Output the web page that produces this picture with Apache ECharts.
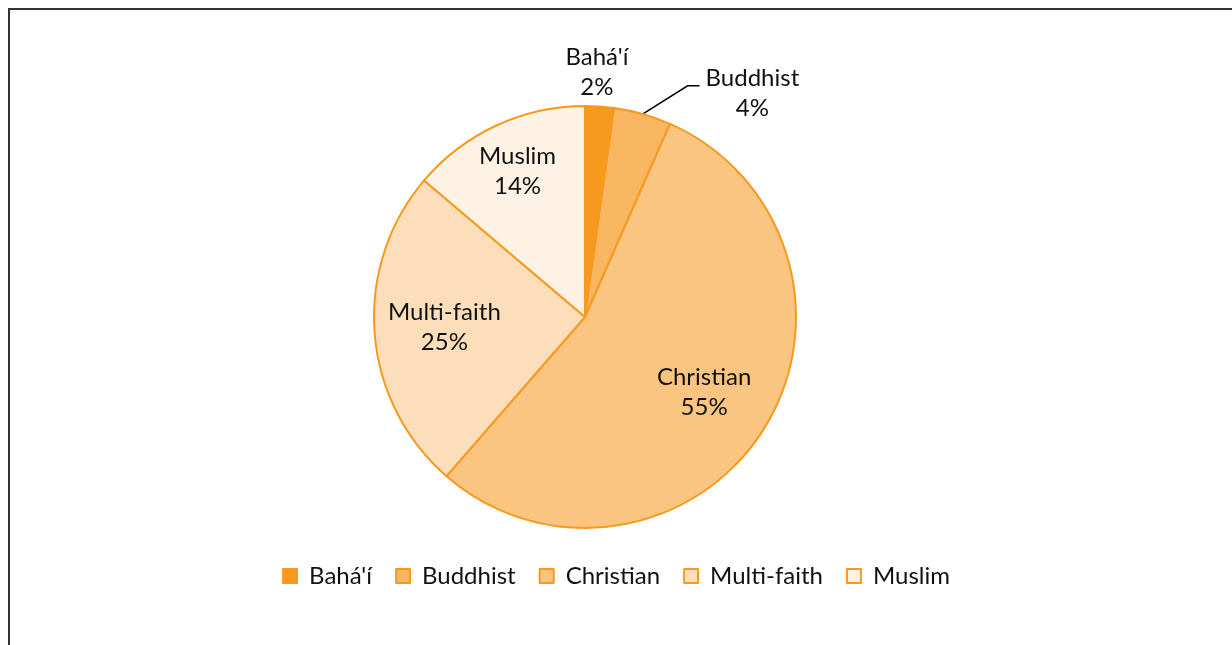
<!DOCTYPE html>
<html>
<head>
<meta charset="utf-8">
<script src="https://cdn.jsdelivr.net/npm/echarts@6/dist/echarts.min.js"></script>
<style>
html, body { margin: 0; padding: 0; background: #fff; overflow: hidden; }
#main { width: 1232px; height: 645px; }
.frame {
    position: absolute; left: 8px; top: 8px;
    width: 1300px; height: 700px;
    border-left: 2px solid #333; border-top: 2px solid #333;
    pointer-events: none;
}
</style>
</head>
<body>
<div id="main"></div>
<div class="frame"></div>
<script>
// religion of the venues, share in %
const categories = ['Bahá\'í', 'Buddhist', 'Christian', 'Multi-faith', 'Muslim'];
const shares = [2.2, 4.4, 54.8, 24.8, 13.8];

const colors = ['#F7991F', '#F9B661', '#FAC580', '#FCDEBA', '#FEF2E4'];
const edge = '#F7991F';
const cx = 585, cy = 317;
// push inside labels outward from the default half radius
const pushOut = [0, 0, 1.3, 1.3, 1.48];

let myChart = echarts.init(document.getElementById('main'));

let data = [];
for (let i = 0; i < categories.length; i++) {
    let item = {
        name: categories[i],
        value: shares[i],
        itemStyle: { color: colors[i] }
    };
    if (i === 0) {
        item.label = { position: 'outside' };
        item.labelLine = { show: false, length: 34, length2: 0 };
    } else if (i === 1) {
        item.label = { position: 'outside' };
        item.labelLine = { show: true, length: 22, length2: 12 };
    } else {
        item.label = { position: 'inside' };
        item.labelLine = { show: false };
    }
    data.push(item);
}

let option = {
    animation: false,
    textStyle: { fontFamily: 'Lato, "Noto Sans", sans-serif' },
    legend: {
        data: categories,
        top: 559,
        left: 'center',
        itemWidth: 14,
        itemHeight: 14,
        itemGap: 23,
        icon: 'rect',
        textStyle: { fontSize: 24, color: '#111', padding: [0, 0, 0, 7] }
    },
    series: [{
        type: 'pie',
        center: [cx, cy],
        radius: 211,
        startAngle: 90,
        clockwise: true,
        avoidLabelOverlap: false,
        percentPrecision: 0,
        itemStyle: { borderColor: edge, borderWidth: 2 },
        emphasis: { disabled: true },
        label: {
            formatter: '{a|{b}}\n{a|{d}%}',
            color: '#111',
            rich: {
                a: { fontSize: 24, lineHeight: 30, align: 'center', color: '#111', fontFamily: 'Lato' }
            }
        },
        labelLine: {
            lineStyle: { color: '#000', width: 1.5 },
            smooth: false
        },
        labelLayout: function (params) {
            let r = params.labelRect;
            let i = params.dataIndex;
            if (i === 0) {
                return { dx: -r.width / 2 - 10 };
            }
            if (i === 1) {
                // slide the label right and redraw the leader line to it
                let shift = 40;
                let pts = params.labelLinePoints;
                let ex = r.x + shift - 6, ey = r.y + r.height / 2 - 7;
                return {
                    dx: shift,
                    labelLinePoints: [pts[0], [ex - 12, ey], [ex, ey]]
                };
            }
            let k = pushOut[i];
            let lx = r.x + r.width / 2, ly = r.y + r.height / 2;
            return { dx: (lx - cx) * (k - 1), dy: (ly - cy) * (k - 1) };
        },
        data: data
    }]
};

myChart.setOption(option);
</script>
</body>
</html>
